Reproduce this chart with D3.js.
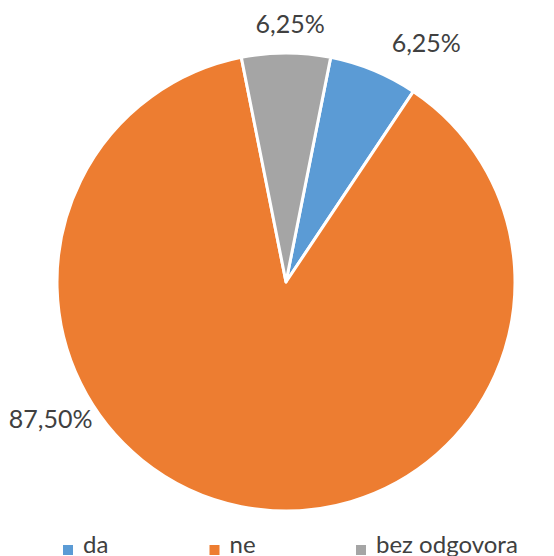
<!DOCTYPE html>
<head>
  <meta charset="utf-8">
  <script src="https://cdn.jsdelivr.net/npm/d3@7"></script>
  <style>
    body { margin:0; background:#fff; }
    text { font-family: Lato, "Open Sans", sans-serif; fill:#404040; }
  </style>
</head>
<body>
<script>
var categories = ["da", "ne", "bez odgovora"];
var values = [6.25, 87.50, 6.25];
var labels = ["6,25%", "87,50%", "6,25%"];
var colors = ["#5B9BD5", "#ED7D31", "#A5A5A5"];

var width = 554, height = 556;
var cx = 286, cy = 282, radius = 229;
var rot = 11.25 * Math.PI / 180;

var svg = d3.select("body").append("svg")
    .attr("width", width)
    .attr("height", height);

var pie = d3.pie()
    .sort(null)
    .startAngle(rot)
    .endAngle(rot + 2 * Math.PI);

var arc = d3.arc().innerRadius(0).outerRadius(radius);

var data = pie(values);

var g = svg.append("g").attr("transform", "translate(" + cx + "," + cy + ")");

g.selectAll("path")
  .data(data)
  .enter()
  .append("path")
    .attr("d", arc)
    .attr("fill", function(d, i) { return colors[i]; })
    .attr("stroke", "#fff")
    .attr("stroke-width", 3)
    .attr("stroke-linejoin", "round");

// label placement (best fit style): angle shift from slice middle, distance from centre
var labelShift = [7.8, 48.7, 0.9];
var labelDist = [278, 272, 259];

g.selectAll(".lbl")
  .data(data)
  .enter()
  .append("text")
    .attr("class", "lbl")
    .attr("text-anchor", "middle")
    .attr("dominant-baseline", "central")
    .style("font-size", "25px")
    .attr("transform", function(d, i) {
      var a = (d.startAngle + d.endAngle) / 2 + labelShift[i] * Math.PI / 180;
      var p = d3.pointRadial(a, labelDist[i]);
      return "translate(" + p[0] + "," + p[1] + ")";
    })
    .text(function(d, i) { return labels[i]; });

// legend
var lx = d3.scalePoint().domain(categories).range([63, 356]);

var leg = svg.selectAll(".leg")
  .data(categories)
  .enter()
  .append("g")
    .attr("class", "leg")
    .attr("transform", function(d) { return "translate(" + lx(d) + ",0)"; });

leg.append("rect")
    .attr("x", 0)
    .attr("y", 545)
    .attr("width", 10)
    .attr("height", 10)
    .attr("fill", function(d, i) { return colors[i]; });

leg.append("text")
    .attr("x", 20)
    .attr("y", 553)
    .style("font-size", "24px")
    .text(function(d) { return d; });
</script>
</body>
